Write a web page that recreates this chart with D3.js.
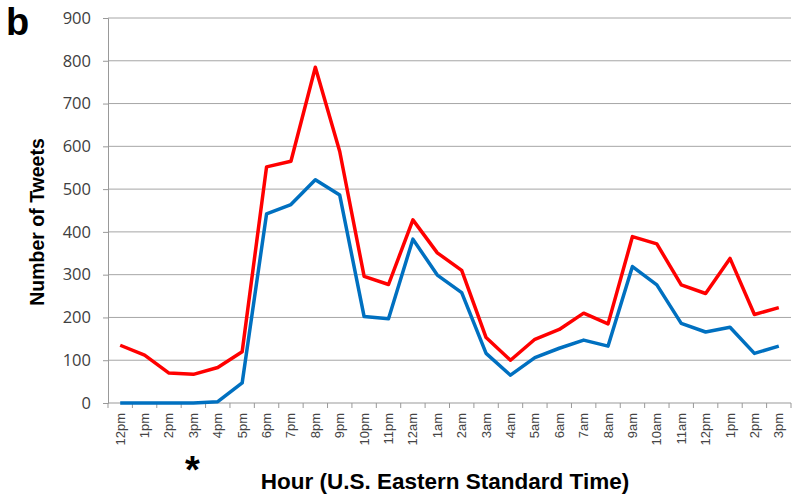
<!DOCTYPE html>
<html>
<head>
<meta charset="utf-8">
<script src="https://cdn.jsdelivr.net/npm/d3@7"></script>
<style>
  body { margin: 0; background: #fff; }
  svg { display: block; }
</style>
</head>
<body>
<div id="chart"></div>
<script>
const w = 800;
const h = 500;

// hours, 12pm through 3pm next day
const hours = ["12pm","1pm","2pm","3pm","4pm","5pm","6pm","7pm","8pm","9pm","10pm","11pm",
  "12am","1am","2am","3am","4am","5am","6am","7am","8am","9am","10am","11am",
  "12pm ","1pm ","2pm ","3pm "];
const redTweets = [135,112,70,67,83,120,552,565,785,588,296,277,
  428,351,310,153,100,149,172,210,185,389,372,276,256,338,207,223];
const blueTweets = [0,0,0,0,3,47,442,464,522,486,202,197,
  383,299,258,116,65,106,128,147,133,319,276,186,166,177,116,133];
const yTicks = [0,100,200,300,400,500,600,700,800,900];

const xLeft = 108, xRight = 791, yTop = 18, yBottom = 403;

const svg = d3.select("#chart")
  .append("svg")
  .attr("width", w)
  .attr("height", h);

const x = d3.scaleBand().domain(hours).range([xLeft, xRight]);
const y = d3.scaleLinear().domain([0, 900]).range([yBottom, yTop]);

// gridlines
svg.append("g")
  .selectAll("line")
  .data(yTicks.slice(1))
  .enter().append("line")
  .attr("x1", xLeft).attr("x2", xRight)
  .attr("y1", d => y(d)).attr("y2", d => y(d))
  .attr("stroke", "#a6a6a6")
  .attr("stroke-width", 1);

// y axis
const yAxis = d3.axisLeft(y).tickValues(yTicks).tickSize(5).tickPadding(12);
const gy = svg.append("g")
  .attr("transform", `translate(${xLeft},0)`)
  .call(yAxis);
gy.select(".domain").attr("stroke", "#999");
gy.selectAll(".tick line").attr("stroke", "#999");
gy.selectAll("text")
  .attr("fill", "#404040")
  .attr("font-family", "'Open Sans', sans-serif")
  .attr("font-size", 16.5);

// x axis: ticks on band boundaries
const gx = svg.append("g")
  .attr("transform", `translate(0,${yBottom})`);
gx.append("line")
  .attr("x1", xLeft).attr("x2", xRight)
  .attr("stroke", "#999");
gx.selectAll(".bt")
  .data(hours)
  .enter().append("line")
  .attr("class", "bt")
  .attr("x1", d => x(d) + x.bandwidth())
  .attr("x2", d => x(d) + x.bandwidth())
  .attr("y1", 0).attr("y2", 5)
  .attr("stroke", "#999");
gx.append("line")
  .attr("x1", xLeft).attr("x2", xLeft).attr("y1", 0).attr("y2", 5)
  .attr("stroke", "#999");
gx.selectAll("text")
  .data(hours)
  .enter().append("text")
  .attr("transform", d => `translate(${x(d) + x.bandwidth() / 2 + 4.5},10) rotate(-90)`)
  .attr("text-anchor", "end")
  .attr("fill", "#444")
  .attr("font-family", "'Liberation Sans', Arial, sans-serif")
  .attr("font-size", 13)
  .text(d => d.trim());

// lines
const line = d3.line()
  .x((d, i) => x(hours[i]) + x.bandwidth() / 2)
  .y(d => y(d));

svg.append("path")
  .datum(blueTweets)
  .attr("fill", "none")
  .attr("stroke", "#0070c0")
  .attr("stroke-width", 3.5)
  .attr("stroke-linejoin", "round")
  .attr("d", line);

svg.append("path")
  .datum(redTweets)
  .attr("fill", "none")
  .attr("stroke", "#ff0000")
  .attr("stroke-width", 3.5)
  .attr("stroke-linejoin", "round")
  .attr("d", line);

// titles
svg.append("text")
  .attr("transform", "translate(44,222) rotate(-90)")
  .attr("text-anchor", "middle")
  .attr("font-family", "'Liberation Sans', Arial, sans-serif")
  .attr("font-weight", "bold")
  .attr("font-size", 19.5)
  .text("Number of Tweets");

svg.append("text")
  .attr("x", 445).attr("y", 489)
  .attr("text-anchor", "middle")
  .attr("font-family", "'Liberation Sans', Arial, sans-serif")
  .attr("font-weight", "bold")
  .attr("font-size", 22.5)
  .text("Hour (U.S. Eastern Standard Time)");

svg.append("text")
  .attr("x", 6).attr("y", 35)
  .attr("font-family", "'Liberation Sans', Arial, sans-serif")
  .attr("font-weight", "bold")
  .attr("font-size", 38)
  .text("b");

svg.append("text")
  .attr("x", x("3pm") + x.bandwidth() / 2 - 1).attr("y", 483)
  .attr("text-anchor", "middle")
  .attr("font-family", "'Liberation Sans', Arial, sans-serif")
  .attr("font-weight", "bold")
  .attr("font-size", 38)
  .text("*");
</script>
</body>
</html>
